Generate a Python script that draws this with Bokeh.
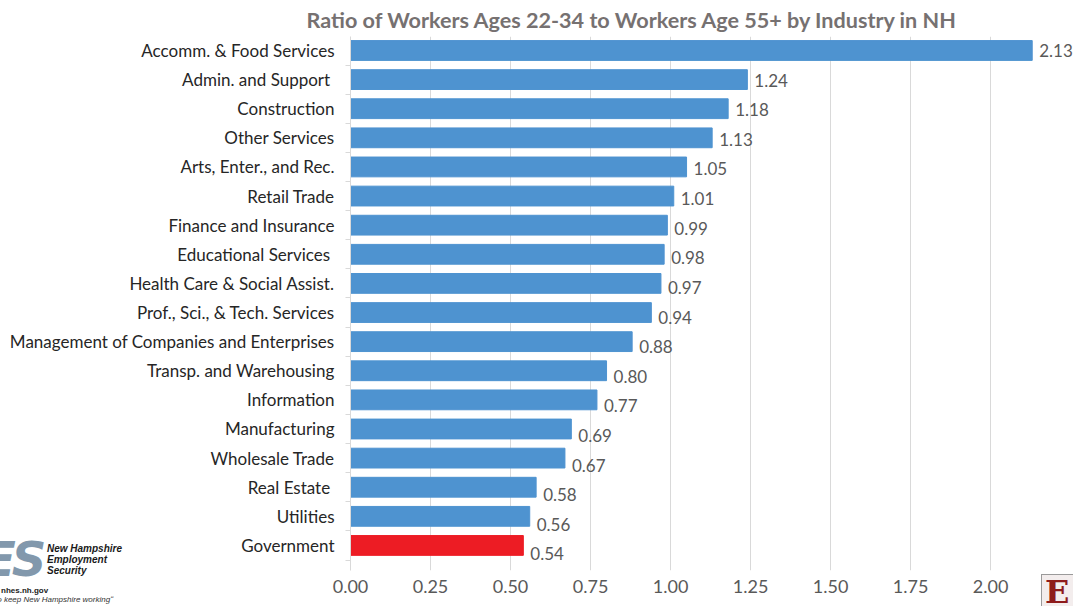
from bokeh.plotting import figure
from bokeh.models import ColumnDataSource, Range1d, FixedTicker, NumeralTickFormatter, LabelSet, Div
from bokeh.layouts import column
from bokeh.core.properties import value
from bokeh.embed import file_html
from bokeh.resources import INLINE

categories = ["Accomm. & Food Services", "Admin. and Support ", "Construction", "Other Services",
              "Arts, Enter., and Rec.", "Retail Trade", "Finance and Insurance", "Educational  Services",
              "Health Care & Social Assist.", "Prof., Sci., & Tech. Services",
              "Management of Companies and Enterprises", "Transp. and Warehousing", "Information",
              "Manufacturing", "Wholesale Trade", "Real Estate ", "Utilities", "Government"]
values = [2.13, 1.24, 1.18, 1.13, 1.05, 1.01, 0.99, 0.98, 0.97, 0.94, 0.88, 0.80, 0.77, 0.69, 0.67, 0.58, 0.56, 0.54]
highlight = "Government"
x_ticks = [0.0, 0.25, 0.5, 0.75, 1.0, 1.25, 1.5, 1.75, 2.0]
title_text = "Ratio of Workers Ages 22-34 to Workers Age 55+ by Industry in NH"

BLUE = "#4E93D0"
RED = "#ED1C24"
FONT = "Lato"

n = len(categories)
ys = list(range(n))
src = ColumnDataSource(dict(
    y=ys,
    v=values,
    lab=["%.2f" % v for v in values],
    color=[RED if c == highlight else BLUE for c in categories],
    yoff=[-0.5 * i for i in ys],
))

p = figure(width=1073, height=606, output_backend="svg", toolbar_location=None,
           x_range=Range1d(0, 2.259), y_range=Range1d(17.86, -0.48),
           min_border_left=350, min_border_right=0, min_border_top=36, min_border_bottom=36)
p.outline_line_color = None
p.background_fill_color = "white"
p.border_fill_color = "white"

p.title.text = title_text
p.title.align = "left"
p.title.offset = -44
p.title.vertical_align = "top"
p.title.text_font = FONT
p.title.text_font_style = "bold"
p.title.text_font_size = "21.6px"
p.title.text_color = "#767171"
p.title.standoff = 4

p.hbar(y="y", right="v", left=0, height=0.68, color="color", source=src)

labels = LabelSet(x="v", y="y", text="lab", source=src, x_offset=7, y_offset="yoff",
                  text_font=value(FONT), text_font_size="17px", text_color="#595959",
                  text_baseline="middle", text_align="left")
p.add_layout(labels)

# x axis
p.xaxis.ticker = FixedTicker(ticks=x_ticks)
p.xaxis.formatter = NumeralTickFormatter(format="0.00")
p.xaxis.axis_line_color = None
p.xaxis.major_tick_line_color = None
p.xaxis.minor_tick_line_color = None
p.xaxis.major_label_text_font = FONT
p.xaxis.major_label_text_font_size = "18px"
p.xaxis.major_label_text_color = "#595959"
p.xaxis.major_label_standoff = 3
p.xgrid.ticker = FixedTicker(ticks=x_ticks)
p.xgrid.grid_line_color = "#D9D9D9"
p.ygrid.grid_line_color = None

# y axis (categories)
p.yaxis.ticker = FixedTicker(ticks=ys, minor_ticks=[i - 0.5 for i in ys] + [n - 0.5])
p.yaxis.major_label_overrides = {i: c for i, c in enumerate(categories)}
p.yaxis.axis_line_color = "#D9D9D9"
p.yaxis.major_tick_line_color = None
p.yaxis.minor_tick_line_color = "#D9D9D9"
p.yaxis.minor_tick_out = 5
p.yaxis.minor_tick_in = 0
p.yaxis.major_label_text_font = FONT
p.yaxis.major_label_text_font_size = "17px"
p.yaxis.major_label_text_color = "#262626"
p.yaxis.major_label_standoff = 10

# logos (drawn as HTML text overlapping the bottom corners of the chart)
logo_html = """
<div style="position:relative;width:1073px;height:0;overflow:visible;">
  <span style="position:absolute;left:-22px;top:-90px;font:italic bold 48px 'DejaVu Sans';color:#8298AC;letter-spacing:-4px;line-height:52px;white-space:nowrap;">ES</span>
  <span style="position:absolute;left:42px;top:-80px;font:italic bold 10px 'Liberation Sans';color:#1A1A1A;line-height:11px;white-space:nowrap;">New Hampshire<br>Employment<br>Security</span>
  <span style="position:absolute;left:-4px;top:-37px;font:bold 8px 'Liberation Sans';color:#1A1A1A;white-space:nowrap;">nhes.nh.gov</span>
  <span style="position:absolute;left:-10px;top:-28px;font:italic 8px 'Liberation Sans';color:#333333;white-space:nowrap;">to keep New Hampshire working&#698;</span>
  <span style="position:absolute;left:1036px;top:-49px;width:40px;height:34px;box-sizing:border-box;border:1px solid #9A9A9A;background:#F3EDED;font:bold 32px 'DejaVu Serif';color:#8E1B1B;line-height:34px;padding-left:3px;overflow:hidden;white-space:nowrap;">E</span>
</div>
"""
logos = Div(text=logo_html, width=1073, height=1, styles={"overflow": "visible"})

layout = column(p, logos, spacing=0)
open("out.html", "w").write(file_html(layout, INLINE))
